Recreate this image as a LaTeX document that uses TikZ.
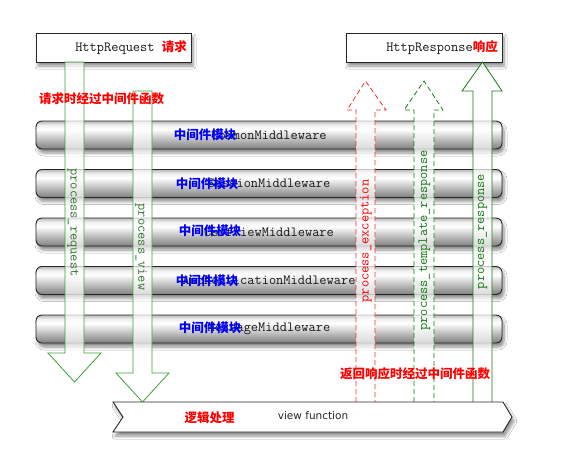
\documentclass[tikz,border=0pt]{standalone}
\usepackage{fontspec}
\setsansfont{DejaVu Sans}
\newfontfamily\cjk{Noto Sans CJK SC}
\usetikzlibrary{shadows.blur}
\definecolor{arrgreen}{RGB}{60,160,60}
\definecolor{dkgreen}{RGB}{20,125,20}
\definecolor{txtgreen}{RGB}{50,120,50}
\definecolor{arred}{RGB}{240,50,50}
\pgfdeclareverticalshading{barshade}{100bp}{color(0bp)=(black!50); color(25bp)=(black!50); color(38bp)=(black!32); color(60bp)=(white); color(68bp)=(black!6); color(75bp)=(black!28); color(100bp)=(black!28)}
\begin{document}
\begin{tikzpicture}[x=1pt,y=-1pt,
  shad/.style={blur shadow={shadow xshift=2pt, shadow yshift=-4pt, shadow opacity=45, shadow blur steps=6, shadow blur radius=3pt}},
  mwbar/.style={draw=black!85, line width=0.9pt, rounded corners=6pt, shading=barshade, shad, minimum width=466pt, minimum height=28pt, inner sep=0pt},
  iobox/.style={draw=black!85, line width=1pt, fill=white, shad, minimum width=155pt, minimum height=29pt, inner sep=0pt},
  mono/.style={font=\ttfamily\fontsize{14}{16}\selectfont, text=black!90},
  cjkblue/.style={font=\cjk\bfseries\fontsize{12.5}{14}\selectfont, text=blue, inner sep=0pt},
  cjkred/.style={font=\cjk\bfseries\fontsize{12.5}{14}\selectfont, text=red, inner sep=0pt},
  blockarr/.style={fill=white, fill opacity=0.72, line width=0.8pt, line join=miter},
  vlabel/.style={font=\ttfamily\fontsize{14}{16}\selectfont, inner sep=0pt}
]
\useasboundingbox (0,0) rectangle (587,469);
\fill[white] (0,0) rectangle (587,469);

% top boxes
\node[iobox] (req) at (113.5,47.5) {};
\node[anchor=east, inner sep=0pt] (reqtxt) at (187,48) {\ttfamily\fontsize{14}{16}\selectfont\color{black!90}HttpRequest \cjk\bfseries\fontsize{12.5}{14}\selectfont\color{red}请求};
\node[iobox, minimum width=156pt] (resp) at (424,47.5) {};
\node[anchor=east, inner sep=0pt] (resptxt) at (498,48) {\ttfamily\fontsize{14}{16}\selectfont\color{black!90}HttpResponse\cjk\bfseries\fontsize{12.5}{14}\selectfont\color{red}响应};

% middleware bars
\node[mwbar, mono] (mw1) at (269,135) {CommonMiddleware};
\node[mwbar, mono] (mw2) at (269,183.5) {SessionMiddleware};
\node[mwbar, mono] (mw3) at (269,232) {CsrfViewMiddleware};
\node[mwbar, mono] (mw4) at (269,280.5) {AuthenticationMiddleware};
\node[mwbar, mono] (mw5) at (269,329) {MessageMiddleware};

\node[cjkblue] (c1) at (205,135) {中间件模块};
\node[cjkblue] (c2) at (207,183.5) {中间件模块};
\node[cjkblue] (c3) at (210,231) {中间件模块};
\node[cjkblue] (c4) at (207,280.5) {中间件模块};
\node[cjkblue] (c5) at (210,328) {中间件模块};

% down arrows
\draw[blockarr, draw=arrgreen] (65,62) -- (84,62) -- (84,353) -- (101,353) -- (74.5,382) -- (48,353) -- (65,353) -- cycle;
\draw[blockarr, draw=arrgreen] (133,91) -- (152,91) -- (152,373) -- (169,373) -- (142.5,402) -- (116,373) -- (133,373) -- cycle;

% up arrows
\draw[blockarr, draw=arred, dash pattern=on 5pt off 3pt] (356,402) -- (356,110) -- (347,110) -- (365.5,81) -- (386,110) -- (375,110) -- (375,402);
\draw[blockarr, draw=dkgreen, dash pattern=on 5pt off 3pt] (414,402) -- (414,110) -- (404,110) -- (424,81) -- (443,110) -- (434,110) -- (434,402);
\draw[blockarr, draw=dkgreen] (473,402) -- (473,91) -- (462,91) -- (482.5,62) -- (502,91) -- (492,91) -- (492,402);

% red labels (on top of arrows)
\node[cjkred, anchor=west] (lbl1) at (39,99) {请求时经过中间件函数};
\node[cjkred, anchor=west] (lbl2) at (340,374) {返回响应时经过中间件函数};

% arrow labels
\node[vlabel, text=txtgreen, rotate=-90] (preq) at (73,222.5) {process\_request};
\node[vlabel, text=txtgreen, rotate=-90] (pview) at (141,247) {process\_view};
\node[vlabel, text=red, rotate=90] (pexc) at (366,241) {process\_exception};
\node[vlabel, text=dkgreen, rotate=90] (ptmpl) at (424.5,240.5) {process\_template\_response};
\node[vlabel, text=dkgreen, rotate=90] (presp) at (482.5,231.5) {process\_response};

% view function bar
\draw[draw=black!85, line width=0.9pt, fill=white, shad] (113,402) -- (503,402) -- (512,417) -- (503,432) -- (113,432) -- (123,417) -- cycle;
\node[cjkred] (logic) at (209.5,418) {逻辑处理};
\node[font=\sffamily\fontsize{10.5}{12}\selectfont, text=black!85, inner sep=0pt] (vf) at (313,416) {view function};
\end{tikzpicture}
\end{document}
